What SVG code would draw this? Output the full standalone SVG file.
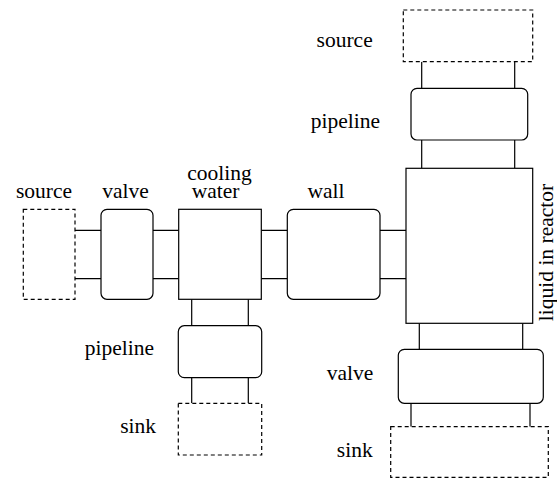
<svg xmlns="http://www.w3.org/2000/svg" width="557" height="483" viewBox="0 0 557 483">
<style>
.n{fill:#fff;stroke:#000;stroke-width:1.2}
.d{fill:#fff;stroke:#000;stroke-width:1.2;stroke-dasharray:4 3}
.c{stroke:#000;stroke-width:1.2;fill:none}
.t text{font-family:"Liberation Serif","Times New Roman",Times,"DejaVu Serif","Noto Serif",serif;font-size:21.5px;fill:#000}
</style>
<rect width="557" height="483" fill="#fff"/>
<g id="connectors">
<path class="c" d="M75,230.3H101M75,278.7H101M153,230.3H178.7M153,278.7H178.7M261.3,230.3H287.3M261.3,278.7H287.3M380,230.3H406M380,278.7H406"/>
<path class="c" d="M191.7,299.3V325.7M248.3,299.3V325.7M191.7,377.7V403.3M248.3,377.7V403.3"/>
<path class="c" d="M421.7,61.7V88.3M514.7,61.7V88.3M421.7,140V168.3M514.7,140V168.3"/>
<path class="c" d="M419.3,323.3V349.3M522.7,323.3V349.3M411,403.3V426.7M530,403.3V426.7"/>
</g>
<g class="t">
<g id="source-left"><rect class="d" x="23.3" y="209.3" width="51.7" height="90"/><text x="44" y="198.3" text-anchor="middle">source</text></g>
<g id="valve-left"><rect class="n" x="101" y="209.3" width="52" height="90" rx="6"/><text x="125.5" y="198.3" text-anchor="middle">valve</text></g>
<g id="cooling-water"><rect class="n" x="178.7" y="209.3" width="82.6" height="90"/><text x="219.5" y="180.3" text-anchor="middle">cooling</text><text x="215.5" y="198.3" text-anchor="middle">water</text></g>
<g id="wall"><rect class="n" x="287.3" y="209.3" width="92.7" height="90" rx="6"/><text x="326" y="198.3" text-anchor="middle">wall</text></g>
<g id="reactor"><rect class="n" x="406" y="168.3" width="126.7" height="155"/><text transform="translate(552.5,252.5) rotate(-90)" text-anchor="middle">liquid in reactor</text></g>
<g id="source-top"><rect class="d" x="403.3" y="10" width="129.4" height="51.7"/><text x="372.7" y="47.3" text-anchor="end">source</text></g>
<g id="pipeline-top"><rect class="n" x="411" y="88.3" width="116.7" height="51.7" rx="6"/><text x="380" y="127.7" text-anchor="end">pipeline</text></g>
<g id="valve-bottom"><rect class="n" x="398.3" y="349.3" width="145" height="54" rx="6"/><text x="373.3" y="380" text-anchor="end">valve</text></g>
<g id="sink-bottom"><rect class="d" x="390.7" y="426.7" width="157.6" height="50.6"/><text x="372.7" y="456.7" text-anchor="end">sink</text></g>
<g id="pipeline-left"><rect class="n" x="178.3" y="325.7" width="83.4" height="52" rx="6"/><text x="154" y="355" text-anchor="end">pipeline</text></g>
<g id="sink-left"><rect class="d" x="178.3" y="403.3" width="83.4" height="51.7"/><text x="156" y="433.3" text-anchor="end">sink</text></g>
</g>
</svg>
